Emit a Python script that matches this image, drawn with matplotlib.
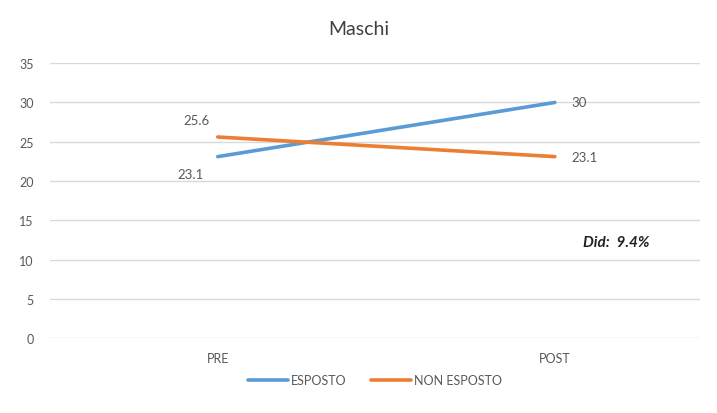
import matplotlib.pyplot as plt

# Dati
categorie = ['PRE', 'POST']
esposto = [23.1, 30]
non_esposto = [25.6, 23.1]
did_testo = 'Did:  9.4%'

plt.rcParams['font.family'] = ['Lato', 'DejaVu Sans']

blu = '#5B9BD5'
arancio = '#ED7D31'
grigio = '#595959'

fig = plt.figure(figsize=(7.17, 4.14), dpi=100)
ax = fig.add_axes([0.070, 0.181, 0.906, 0.664])

x = list(range(len(categorie)))
ax.plot(x, esposto, color=blu, lw=2.6, label='ESPOSTO', solid_capstyle='round')
ax.plot(x, non_esposto, color=arancio, lw=2.6, label='NON ESPOSTO', solid_capstyle='round')

# Etichette dei valori
ax.annotate(f'{esposto[0]}', (x[0], esposto[0]), xytext=(-10, -8), textcoords='offset points',
            ha='right', va='top', fontsize=9.5, color=grigio)
ax.annotate(f'{non_esposto[0]}', (x[0], non_esposto[0]), xytext=(-6, 8), textcoords='offset points',
            ha='right', va='bottom', fontsize=9.5, color=grigio)
ax.annotate(f'{esposto[1]:g}', (x[1], esposto[1]), xytext=(12, 0), textcoords='offset points',
            ha='left', va='center', fontsize=9.5, color=grigio)
ax.annotate(f'{non_esposto[1]}', (x[1], non_esposto[1]), xytext=(12, 0), textcoords='offset points',
            ha='left', va='center', fontsize=9.5, color=grigio)

ax.text(1.085, 12.2, did_testo, fontsize=11, fontweight='bold', fontstyle='italic',
        color='#222222', ha='left', va='center')

ax.set_xlim(-0.497, 1.43)
ax.set_ylim(0, 35)
ax.set_yticks(range(0, 36, 5))
ax.set_xticks(x)
ax.set_xticklabels(categorie)
ax.tick_params(axis='both', length=0, labelsize=9, colors=grigio, pad=10)
ax.tick_params(axis='y', pad=12)
ax.grid(axis='y', color='#D9D9D9', lw=1)
ax.set_axisbelow(True)
for s in ax.spines.values():
    s.set_visible(False)

fig.suptitle('Maschi', y=0.95, fontsize=14, color='#404040')
ax.legend(loc='upper center', bbox_to_anchor=(0.5, -0.09), ncol=2, frameon=False,
          fontsize=9, labelcolor=grigio, handlelength=3.2, handletextpad=0.2,
          columnspacing=2.0)

plt.savefig('out.png', dpi=100)
